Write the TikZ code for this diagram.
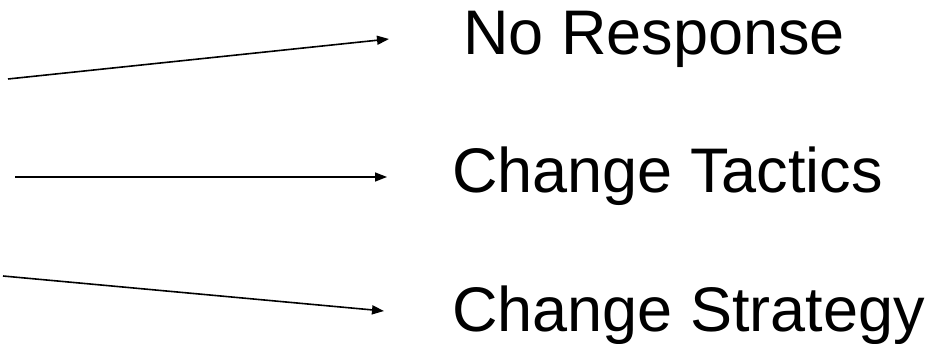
\documentclass[tikz,border=0pt]{standalone}
\usepackage{fontspec}
\setmainfont{Liberation Sans}
\usetikzlibrary{arrows.meta}
\begin{document}
\begin{tikzpicture}[x=1pt,y=-1pt,
  outcome/.style={anchor=base west, inner sep=0pt, font=\fontsize{63}{63}\selectfont},
  flow/.style={line width=1.6pt, -{Triangle[length=12pt,width=9pt]}}]
  \useasboundingbox (0,0) rectangle (931,344);
  % free ends of the three arrows
  \coordinate (s1) at (8,79);
  \coordinate (e1) at (389,39);
  \coordinate (s2) at (15,177);
  \coordinate (e2) at (387,177);
  \coordinate (s3) at (3,276);
  \coordinate (e3) at (384,311);
  % outcomes
  \node[outcome] (none) at (463,55) {No Response};
  \node[outcome] (tactics) at (452,193) {Change Tactics};
  \node[outcome] (strategy) at (452,331) {Change Strategy};
  \draw[flow] (s1) -- (e1);
  \draw[flow] (s2) -- (e2);
  \draw[flow] (s3) -- (e3);
\end{tikzpicture}
\end{document}
